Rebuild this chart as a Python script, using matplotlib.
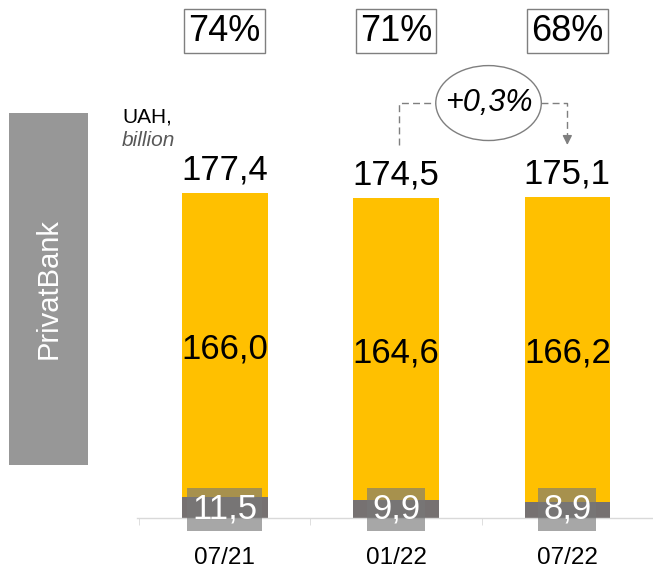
import matplotlib
matplotlib.use("Agg")
import matplotlib.pyplot as plt
from matplotlib.patches import Ellipse, Rectangle

plt.rcParams['font.family'] = ['Liberation Sans', 'DejaVu Sans']

# data
periods = ['07/21', '01/22', '07/22']
other = [11.5, 9.9, 8.9]
main = [166.0, 164.6, 166.2]
totals = [177.4, 174.5, 175.1]
shares = ['74%', '71%', '68%']
change_label = '+0,3%'

YELLOW = '#FFC000'
DARK = '#767171'
LINE = '#d9d9d9'
ARROW = '#7f7f7f'


def fmt(v):
    return f'{v:.1f}'.replace('.', ',')


W, H = 653, 580
fig = plt.figure(figsize=(W / 100, H / 100), dpi=100)
ax = fig.add_axes([137 / W, 62 / H, 516 / W, 518 / H])
ax.set_xlim(-0.512, 2.488)
ax.set_ylim(0, 282.75)

x = list(range(len(periods)))
ax.bar(x, other, width=0.5, color=DARK, zorder=2)
ax.bar(x, main, bottom=other, width=0.5, color=YELLOW, zorder=2)

for s in ['top', 'left', 'right']:
    ax.spines[s].set_visible(False)
ax.spines['bottom'].set_color(LINE)
ax.spines['bottom'].set_linewidth(1)
ax.set_yticks([])
ax.set_xticks(x)
ax.set_xticklabels(periods, fontsize=17.5)
ax.tick_params(axis='x', which='major', length=0, pad=21)
ax.set_xticks([-0.5, 0.5, 1.5, 2.5], minor=True)
ax.tick_params(axis='x', which='minor', length=5, color=LINE, direction='out')

for xi, o, m, t, s in zip(x, other, main, totals, shares):
    # small segment label
    ax.text(xi, 4.8, fmt(o), ha='center', va='center', color='white', fontsize=25,
            zorder=4, clip_on=False,
            bbox=dict(boxstyle='square,pad=0.14', fc='#787878', ec='none', alpha=0.65))
    # main segment label
    ax.text(xi, o + m / 2 - 2, fmt(m), ha='center', va='center', fontsize=25, zorder=4)
    # total
    ax.annotate(fmt(t), (xi, t), xytext=(0, 10), textcoords='offset points',
                ha='center', va='baseline', fontsize=25)
    # share box
    ax.text(xi, 265.8, s, ha='center', va='center', fontsize=26, clip_on=False,
            bbox=dict(boxstyle='square,pad=0.12', fc='white', ec=ARROW, lw=1))

# change annotation between 01/22 and 07/22
lvl = totals[1] + 52
ex, ew, eh = 1.54, 0.616, 40.9
dash = (0, (5, 3))
ax.plot([x[1] + 0.02, x[1] + 0.02, ex - ew / 2], [totals[1] + 29, lvl, lvl],
        color=ARROW, lw=1, ls=dash, clip_on=False)
ax.plot([ex + ew / 2, x[2], x[2]], [lvl, lvl, totals[2] + 32],
        color=ARROW, lw=1, ls=dash, clip_on=False)
ax.annotate('', xy=(x[2], totals[2] + 27), xytext=(x[2], totals[2] + 33),
            arrowprops=dict(arrowstyle='-|>', color=ARROW, lw=1, mutation_scale=14))
ax.add_patch(Ellipse((ex, lvl), ew, eh, fc='white', ec=ARROW, lw=1, clip_on=False, zorder=3))
ax.text(ex, lvl, change_label, ha='center', va='center', fontsize=22, style='italic', zorder=4)

# unit label
ax.text(-0.60, 216.0, 'UAH,', ha='left', va='baseline', fontsize=15, clip_on=False)
ax.text(-0.60, 203.0, 'billion', ha='left', va='baseline', fontsize=15, style='italic',
        color='#595959', clip_on=False)

# side panel
fig.patches.append(Rectangle((9 / W, 1 - 465 / H), 79 / W, 352 / H, transform=fig.transFigure,
                             fc='#979797', ec='none'))
fig.text(48.5 / W, 1 - 289 / H, 'PrivatBank', rotation=90, ha='center', va='center',
         color='white', fontsize=21)

fig.savefig('out.png', dpi=100)
